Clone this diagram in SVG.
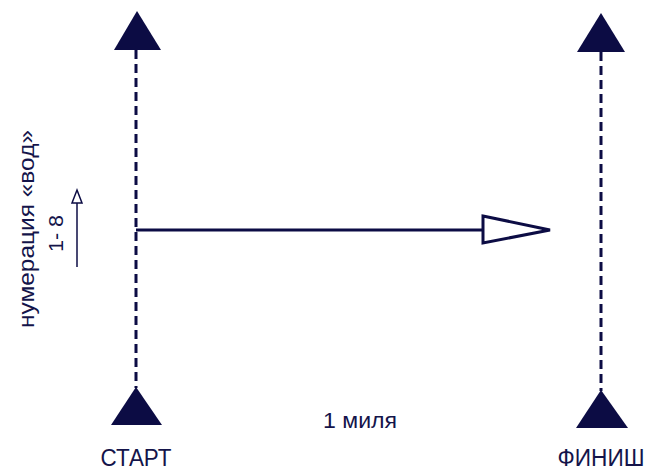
<svg xmlns="http://www.w3.org/2000/svg" width="650" height="471" viewBox="0 0 650 471">
<style>
.tri{fill:#0c0c44}
.dash{stroke:#0c0c44;stroke-width:3;stroke-dasharray:9 5;fill:none}
.ln{stroke:#0c0c44;stroke-width:3;fill:none}
.t{font-family:"Liberation Sans",Arial,sans-serif;fill:#14144a}
</style>
<rect width="650" height="471" fill="#ffffff"/>
<g id="connectors">
<line class="dash" x1="136" y1="50" x2="136" y2="388"/>
<line class="dash" x1="601" y1="52" x2="601" y2="391"/>
<path class="ln" d="M136 230 H483"/>
<path class="ln" d="M483 216 L550 230 L483 243 Z" fill="#fff"/>
<path d="M77 267 V202" stroke="#0c0c44" stroke-width="1.5" fill="none"/>
<path d="M77 190 L82 203 L72 203 Z" fill="#fff" stroke="#0c0c44" stroke-width="1.5"/>
</g>
<g id="start-top"><polygon class="tri" points="137,11 114,50 161,50"/></g>
<g id="start"><polygon class="tri" points="136,387 111,425 162,425"/><text class="t" x="100.5" y="466" font-size="24.5" textLength="71" lengthAdjust="spacingAndGlyphs">СТАРТ</text></g>
<g id="finish-top"><polygon class="tri" points="601,13 577,52 625,52"/></g>
<g id="finish"><polygon class="tri" points="601,390 576,428 628,428"/><text class="t" x="557.5" y="466" font-size="24.5" textLength="87" lengthAdjust="spacingAndGlyphs">ФИНИШ</text></g>
<g id="distance"><text class="t" x="323" y="428" font-size="22" textLength="74" lengthAdjust="spacingAndGlyphs">1 миля</text></g>
<g id="numbering">
<text class="t" transform="translate(33.5,328) rotate(-90)" font-size="22.5" textLength="198" lengthAdjust="spacingAndGlyphs">нумерация «вод»</text>
<text class="t" transform="translate(63,252) rotate(-90)" font-size="21" textLength="37" lengthAdjust="spacingAndGlyphs">1- 8</text>
</g>
</svg>
